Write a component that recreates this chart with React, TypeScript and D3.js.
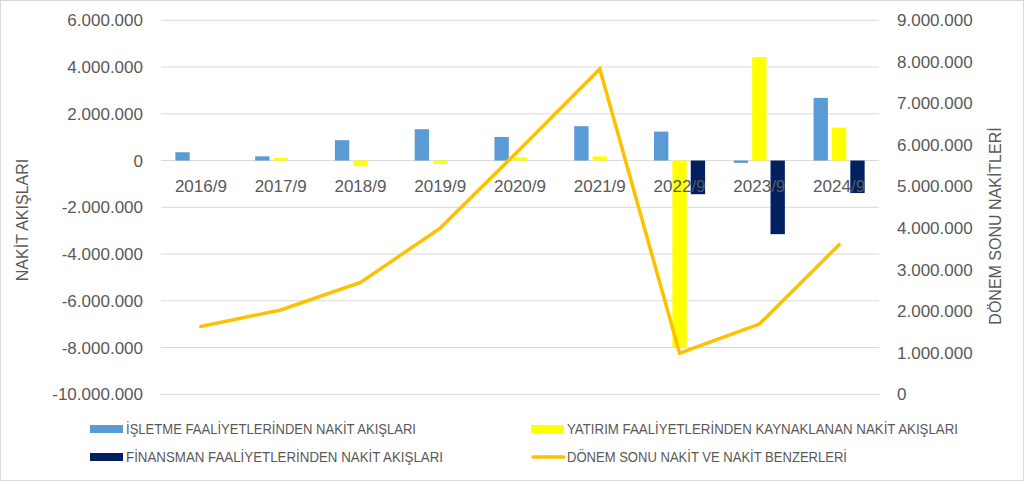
import { useRef, useEffect } from 'react';
import * as d3 from 'd3';

const categories = ['2016/9', '2017/9', '2018/9', '2019/9', '2020/9', '2021/9', '2022/9', '2023/9', '2024/9'];
const isletme = [355000, 180000, 870000, 1340000, 1010000, 1470000, 1240000, -100000, 2680000];
const yatirim = [0, 110000, -240000, -145000, 140000, 180000, -7970000, 4430000, 1410000];
const finansman = [0, 0, 0, 0, 0, 0, -1440000, -3150000, -1390000];
const donemSonu = [1630000, 2030000, 2690000, 4000000, 5900000, 7830000, 990000, 1690000, 3600000];
const leftTicks = [-10000000, -8000000, -6000000, -4000000, -2000000, 0, 2000000, 4000000, 6000000];
const rightTicks = [0, 1000000, 2000000, 3000000, 4000000, 5000000, 6000000, 7000000, 8000000, 9000000];

const seriesNames = [
  'İŞLETME FAALİYETLERİNDEN NAKİT AKIŞLARI',
  'YATIRIM FAALİYETLERİNDEN KAYNAKLANAN NAKİT AKIŞLARI',
  'FİNANSMAN FAALİYETLERİNDEN NAKİT AKIŞLARI',
  'DÖNEM SONU NAKİT VE NAKİT BENZERLERİ'
];
const barColors = ['#5b9bd5', '#ffff00', '#002060'];
const lineColor = '#ffc000';
const textColor = '#595959';
const font = '"Liberation Sans", Arial, sans-serif';

const W = 1024;
const H = 481;

const App = () => {
  const svgRef = useRef<SVGSVGElement>(null);

  useEffect(() => {
    if (!svgRef.current) return;
    const svg = d3.select(svgRef.current);
    svg.selectAll('*').remove();

    const left = 161, right = 879, top = 20.3, bottom = 394.3;

    svg.append('rect')
      .attr('x', 0.5).attr('y', 0.5)
      .attr('width', W - 1).attr('height', H - 1)
      .attr('fill', '#fff').attr('stroke', '#d9d9d9');

    const x0 = d3.scaleBand<string>().domain(categories).range([left, right])
      .paddingInner(0.36).paddingOuter(0.18);
    const x1 = d3.scaleBand<number>().domain([0, 1, 2]).range([0, x0.bandwidth()])
      .paddingInner(0.22);
    const yL = d3.scaleLinear().domain([-10000000, 6000000]).range([bottom, top]);
    const yR = d3.scaleLinear().domain([0, 9000000]).range([bottom, top]);
    const fmt = (v: number) => (v < 0 ? '-' : '') + d3.format(',')(Math.abs(v)).replace(/,/g, '.');

    // gridlines
    svg.append('g')
      .selectAll('line')
      .data(leftTicks)
      .join('line')
      .attr('x1', left).attr('x2', right)
      .attr('y1', d => yL(d)).attr('y2', d => yL(d))
      .attr('stroke', '#d9d9d9').attr('stroke-width', 1);

    // left axis labels
    svg.append('g')
      .selectAll('text')
      .data(leftTicks)
      .join('text')
      .attr('x', 143).attr('y', d => yL(d))
      .attr('dy', '0.35em')
      .attr('text-anchor', 'end')
      .attr('font-family', font).attr('font-size', 17)
      .attr('fill', textColor)
      .text(d => fmt(d));

    // right axis labels
    svg.append('g')
      .selectAll('text')
      .data(rightTicks)
      .join('text')
      .attr('x', 897).attr('y', d => yR(d))
      .attr('dy', '0.35em')
      .attr('text-anchor', 'start')
      .attr('font-family', font).attr('font-size', 17)
      .attr('fill', textColor)
      .text(d => fmt(d));

    // bars
    const allBars = [isletme, yatirim, finansman];
    allBars.forEach((vals, s) => {
      svg.append('g')
        .selectAll('rect')
        .data(vals)
        .join('rect')
        .attr('x', (_, i) => (x0(categories[i]) as number) + (x1(s) as number))
        .attr('width', x1.bandwidth())
        .attr('y', d => yL(Math.max(0, d)))
        .attr('height', d => Math.abs(yL(d) - yL(0)))
        .attr('fill', barColors[s]);
    });

    // category labels
    svg.append('g')
      .selectAll('text')
      .data(categories)
      .join('text')
      .attr('x', d => (x0(d) as number) + x0.bandwidth() / 2)
      .attr('y', 186)
      .attr('dy', '0.35em')
      .attr('text-anchor', 'middle')
      .attr('font-family', font).attr('font-size', 17)
      .attr('fill', textColor)
      .text(d => d);

    // line
    const line = d3.line<number>()
      .x((_, i) => (x0(categories[i]) as number) + x0.bandwidth() / 2)
      .y(d => yR(d));
    svg.append('path')
      .datum(donemSonu)
      .attr('d', line)
      .attr('fill', 'none')
      .attr('stroke', lineColor)
      .attr('stroke-width', 3.5)
      .attr('stroke-linejoin', 'miter')
      .attr('stroke-linecap', 'round');

    // axis titles
    svg.append('text')
      .attr('transform', `translate(28, 220) rotate(-90)`)
      .attr('text-anchor', 'middle')
      .attr('font-family', font).attr('font-size', 16)
      .attr('fill', textColor)
      .text('NAKİT AKIŞLARI');
    svg.append('text')
      .attr('transform', `translate(1001, 226) rotate(-90)`)
      .attr('text-anchor', 'middle')
      .attr('font-family', font).attr('font-size', 16)
      .attr('fill', textColor)
      .text('DÖNEM SONU NAKİTLERİ');

    // legend
    const legendItems = [
      { name: seriesNames[0], x: 90, y: 429, w: 290, kind: 'bar', color: barColors[0] },
      { name: seriesNames[1], x: 531, y: 429, w: 391, kind: 'bar', color: barColors[1] },
      { name: seriesNames[2], x: 90, y: 457, w: 317, kind: 'bar', color: barColors[2] },
      { name: seriesNames[3], x: 531, y: 457, w: 280, kind: 'line', color: lineColor }
    ];
    const lg = svg.append('g');
    legendItems.forEach(it => {
      if (it.kind === 'bar') {
        lg.append('rect')
          .attr('x', it.x).attr('y', it.y - 4)
          .attr('width', 33).attr('height', 8)
          .attr('fill', it.color);
      } else {
        lg.append('line')
          .attr('x1', it.x + 2).attr('x2', it.x + 33)
          .attr('y1', it.y).attr('y2', it.y)
          .attr('stroke', it.color).attr('stroke-width', 3.5)
          .attr('stroke-linecap', 'round');
      }
      lg.append('text')
        .attr('x', it.x + 36).attr('y', it.y)
        .attr('dy', '0.35em')
        .attr('font-family', '"Liberation Sans Narrow", ' + font)
        .attr('font-size', 14)
        .attr('textLength', it.w)
        .attr('lengthAdjust', 'spacingAndGlyphs')
        .attr('fill', textColor)
        .text(it.name);
    });
  }, []);

  return (
    <svg
      ref={svgRef}
      width={W}
      height={H}
      style={{ position: 'absolute', left: 0, top: 0, display: 'block' }}
    />
  );
};

export default App;
